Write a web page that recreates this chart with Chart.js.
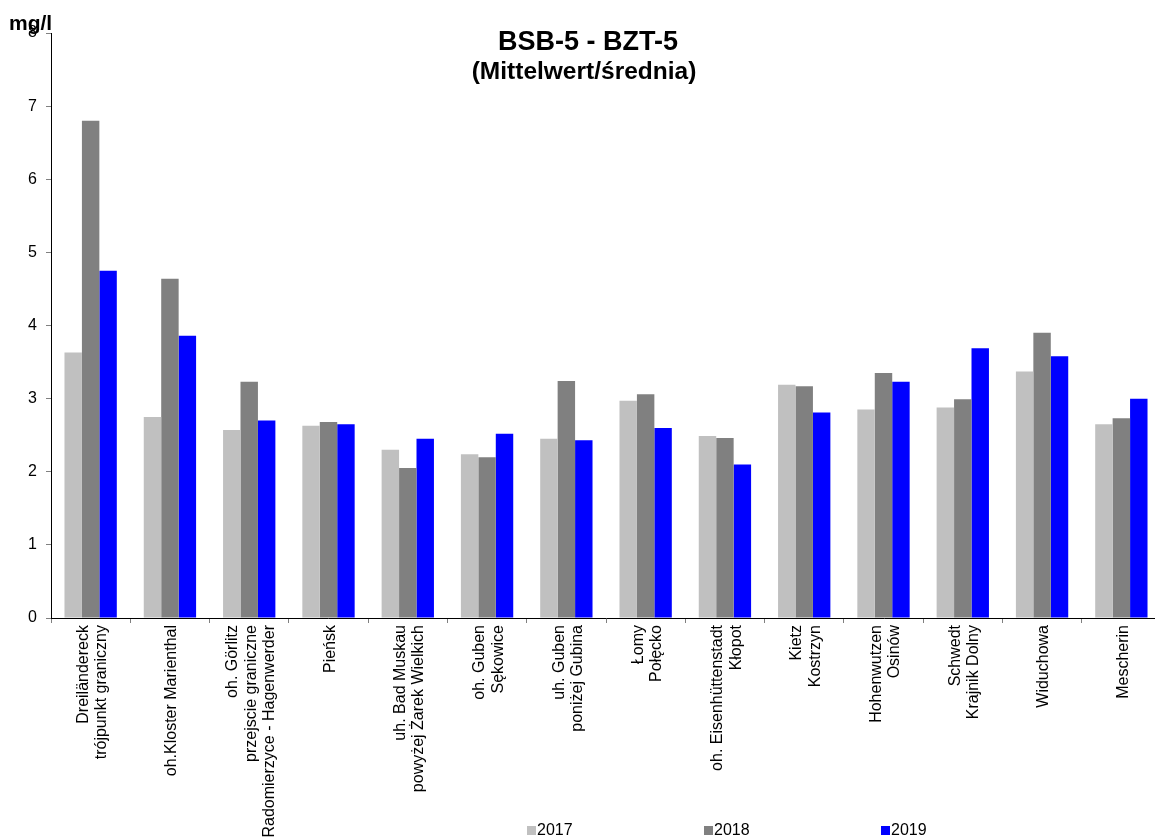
<!DOCTYPE html>
<html>
<head>
<meta charset="utf-8">
<script src="https://cdn.jsdelivr.net/npm/chart.js@4"></script>
<style>
    html, body { margin: 0; padding: 0; background: #fff; overflow: hidden; }
    #wrap { width: 1161px; height: 840px; position: relative; }
</style>
</head>
<body>
<div id="wrap"><canvas id="bsb-chart"></canvas></div>
<script>
const stations = [
    ['Dreiländereck', 'trójpunkt graniczny'],
    ['oh.Kloster Marienthal'],
    ['oh. Görlitz', 'przejscie graniczne', 'Radomierzyce - Hagenwerder'],
    ['Pieńsk'],
    ['uh. Bad Muskau', 'powyżej Żarek Wielkich'],
    ['oh. Guben', 'Sękowice'],
    ['uh. Guben', 'poniżej Gubina'],
    ['Łomy', 'Połęcko'],
    ['oh. Eisenhüttenstadt', 'Kłopot'],
    ['Kietz', 'Kostrzyn'],
    ['Hohenwutzen', 'Osinów'],
    ['Schwedt', 'Krajnik Dolny'],
    ['Widuchowa'],
    ['Mescherin']
];

const years = ['2017', '2018', '2019'];
const values2017 = [3.63, 2.75, 2.57, 2.63, 2.30, 2.24, 2.45, 2.97, 2.49, 3.19, 2.85, 2.88, 3.37, 2.65];
const values2018 = [6.80, 4.64, 3.23, 2.68, 2.05, 2.20, 3.24, 3.06, 2.46, 3.17, 3.35, 2.99, 3.90, 2.73];
const values2019 = [4.75, 3.86, 2.70, 2.65, 2.45, 2.52, 2.43, 2.60, 2.10, 2.81, 3.23, 3.69, 3.58, 3.00];
const yTicks = [0, 1, 2, 3, 4, 5, 6, 7, 8];

const colors = ['#C0C0C0', '#808080', '#0000FF'];
const fontFamily = '"Liberation Sans", Arial, sans-serif';

const canvas = document.getElementById('bsb-chart').getContext('2d');

// titles, unit, rotated station names and the legend are drawn by hand
const textPlugin = {
    id: 'textPlugin',
    afterDraw(chart) {
        const { ctx, scales: { x } } = chart;
        ctx.save();
        ctx.fillStyle = '#000';

        ctx.font = `16px ${fontFamily}`;
        ctx.textAlign = 'right';
        ctx.textBaseline = 'middle';
        stations.forEach((lines, i) => {
            ctx.save();
            ctx.translate(x.getPixelForValue(i) + 2, x.top + 7);
            ctx.rotate(-Math.PI / 2);
            lines.forEach((line, j) => {
                ctx.fillText(line, 0, (j - (lines.length - 1) / 2) * 18.5);
            });
            ctx.restore();
        });

        // legend
        ctx.textAlign = 'left';
        chart.data.datasets.forEach((ds, i) => {
            const left = 527 + i * 177;
            ctx.fillStyle = ds.backgroundColor;
            ctx.fillRect(left, 826, 9, 9);
            ctx.fillStyle = '#000';
            ctx.fillText(ds.label, left + 10, 831);
        });

        ctx.textAlign = 'center';
        ctx.font = `bold 27px ${fontFamily}`;
        ctx.fillText('BSB-5 - BZT-5', 588, 43);
        ctx.font = `bold 24.5px ${fontFamily}`;
        ctx.fillText('(Mittelwert/średnia)', 584, 72);

        ctx.textAlign = 'left';
        ctx.textBaseline = 'alphabetic';
        ctx.font = `bold 21px ${fontFamily}`;
        ctx.fillText('mg/l', 9, 30);
        ctx.restore();
    }
};

new Chart(canvas, {
    type: 'bar',
    data: {
        labels: stations.map(lines => lines.join(' ')),
        datasets: [
            { label: years[0], data: values2017, backgroundColor: colors[0] },
            { label: years[1], data: values2018, backgroundColor: colors[1] },
            { label: years[2], data: values2019, backgroundColor: colors[2] }
        ]
    },
    options: {
        responsive: true,
        maintainAspectRatio: false,
        animation: false,
        categoryPercentage: 0.66,
        barPercentage: 1,
        borderWidth: 0,
        layout: { padding: { top: 33, left: 0, right: 0, bottom: 0 } },
        scales: {
            x: {
                afterFit: scale => { scale.height = 222; },
                grid: {
                    drawOnChartArea: false,
                    color: '#808080',
                    tickLength: 5
                },
                border: { color: '#000', width: 1 },
                ticks: { display: false }
            },
            y: {
                min: 0,
                max: 8,
                afterFit: scale => { scale.width = 51; },
                afterBuildTicks: scale => { scale.ticks = yTicks.map(v => ({ value: v })); },
                grid: {
                    drawOnChartArea: false,
                    color: '#808080',
                    tickLength: 5
                },
                border: { color: '#000', width: 1 },
                ticks: {
                    color: '#000',
                    padding: 9,
                    font: { family: fontFamily, size: 16 }
                }
            }
        },
        plugins: {
            legend: { display: false },
            tooltip: { enabled: false }
        }
    },
    plugins: [textPlugin]
});
</script>
</body>
</html>
